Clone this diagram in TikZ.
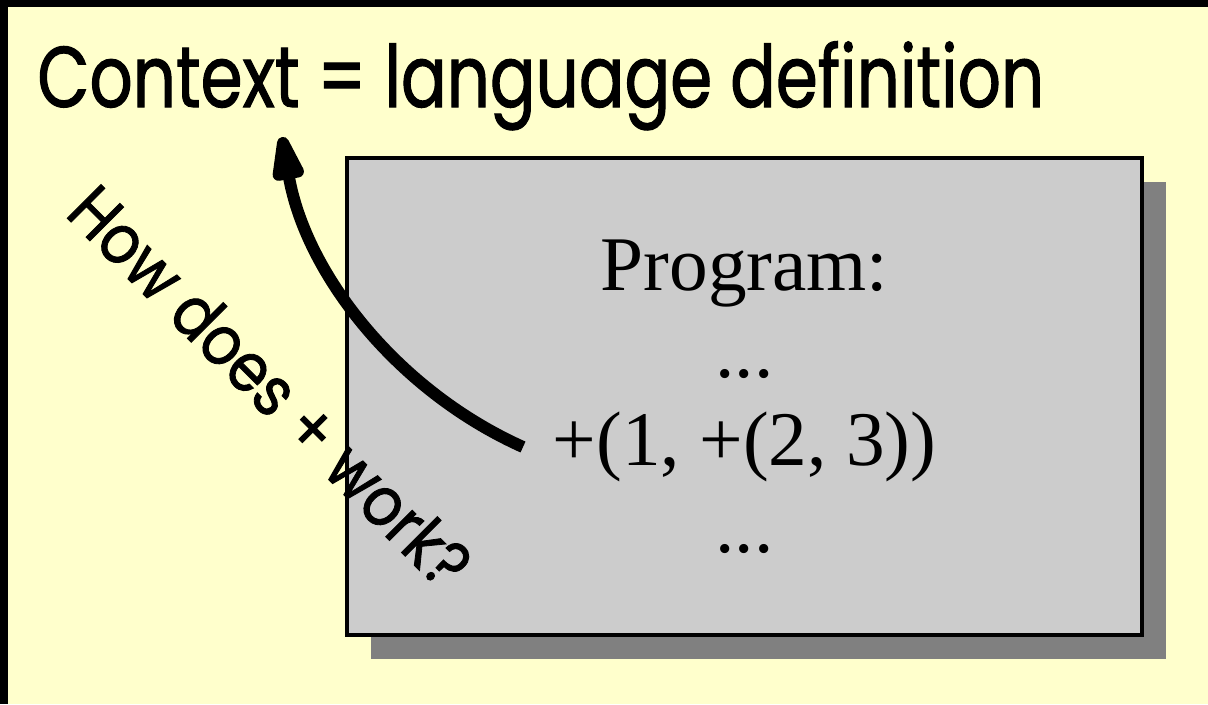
\documentclass[tikz,border=0pt]{standalone}
\usepackage{fontspec}
\setmainfont{Liberation Serif}
\newfontfamily\titlefont[FakeStretch=0.785, FakeBold=1.2]{Poppins}
\newfontfamily\questionfont[FakeStretch=0.87, FakeBold=1.2]{Poppins}
\usetikzlibrary{
  arrows.meta,
  shadows
}
\definecolor{slidebg}{RGB}{255, 255, 204}
\definecolor{boxgray}{RGB}{204, 204, 204}
\definecolor{shadowgray}{RGB}{128, 128, 128}
\definecolor{framecolor}{RGB}{0, 0, 0}
\tikzset{
titletext/.style={
  font=\titlefont\fontsize{49}{55}\selectfont,
  text=black,
  inner sep=0pt
},
questiontext/.style={
  font=\questionfont\fontsize{39}{44}\selectfont,
  text=black,
  inner sep=0pt
},
programbox/.style={
  draw=black,
  line width=0.08cm,
  fill=boxgray,
  minimum width=15.9cm,
  minimum height=9.54cm,
  align=center,
  font=\fontsize{44}{49.8}\selectfont,
  general shadow={fill=shadowgray, shadow xshift=0.48cm, shadow yshift=-0.48cm}
},
bigarrow/.style={
  -{Triangle[length=1.2cm,width=0.64cm,round]},
  line width=0.24cm,
  draw=black
}
}
\begin{document}
\begin{tikzpicture}[x=0.02cm, y=0.02cm]
  % page and frame
  \fill[slidebg] (0,0) rectangle (1208,-704);
  \fill[framecolor] (0,0) rectangle (1208,-7);
  \fill[framecolor] (0,0) rectangle (8,-704);
  \useasboundingbox (0,0) rectangle (1208,-704);

  \node[titletext, anchor=base west] (title) at (37,-107) {Context = language definition};

  \node[programbox] (program) at (744.5,-396.5) {Program:\\...\\+(1, +(2, 3))\\...};

  \node[questiontext, rotate=-45, anchor=base] (question) at (253,-404) {How does + work?};

  % arrow from the call up to the title
  \coordinate (arrowstart) at (523,-447);
  \coordinate (arrowtip) at (282,-137);
  \draw[bigarrow] (arrowstart) to[bend left=28, looseness=0.9] (arrowtip);
\end{tikzpicture}
\end{document}
